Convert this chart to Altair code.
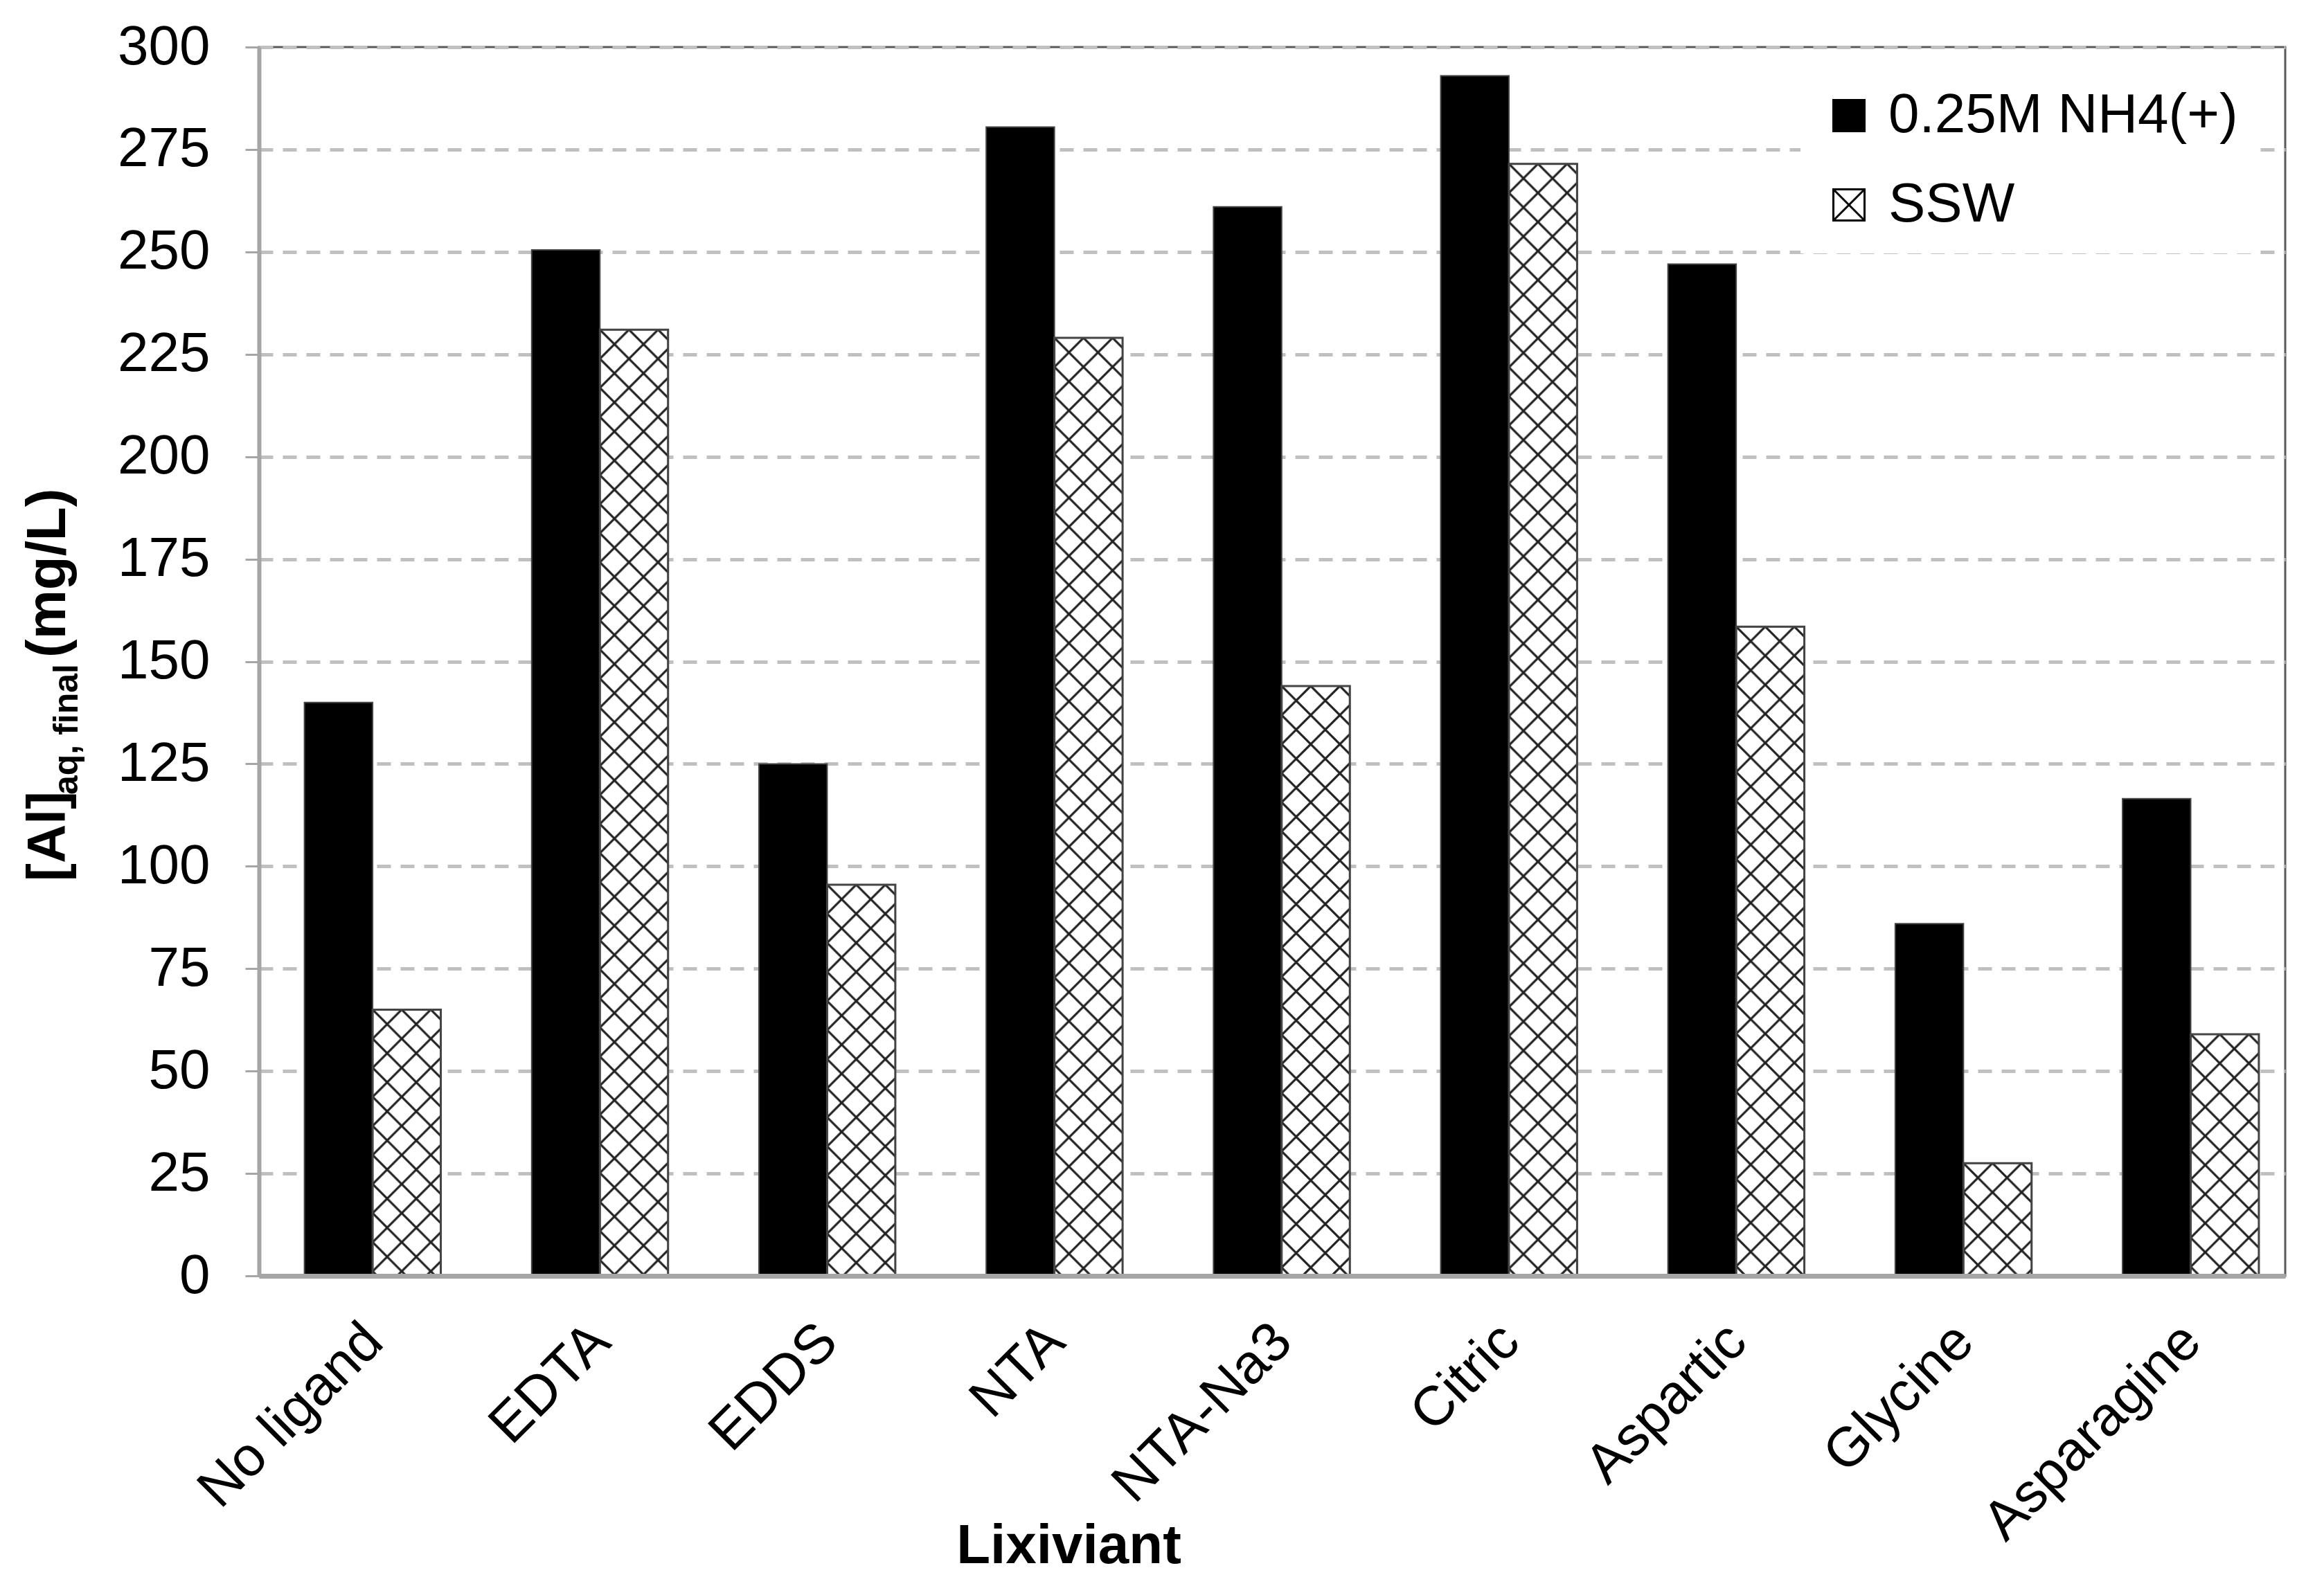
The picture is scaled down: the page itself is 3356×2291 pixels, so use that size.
import base64
import altair as alt
import pandas as pd

# ---------------- data ----------------
categories = ["No ligand", "EDTA", "EDDS", "NTA", "NTA-Na3",
              "Citric", "Aspartic", "Glycine", "Asparagine"]
series_names = ["0.25M NH4(+)", "SSW"]
nh4_values = [140, 250.5, 125, 280.5, 261, 293, 247, 86, 116.5]
ssw_values = [65, 231, 95.5, 229, 144, 271.5, 158.5, 27.5, 59]
y_ticks = [0, 25, 50, 75, 100, 125, 150, 175, 200, 225, 250, 275, 300]

rows = []
for c, a, b in zip(categories, nh4_values, ssw_values):
    rows.append({"lig": c, "series": series_names[0], "value": a})
    rows.append({"lig": c, "series": series_names[1], "value": b})
df = pd.DataFrame(rows)

# ---------------- styling ----------------
FONT = "Liberation Sans"
W, H = 2926, 1775
AXIS_GRAY = "#a6a6a6"

hatch_svg = (
    "<svg xmlns='http://www.w3.org/2000/svg' width='100%' height='100%'>"
    "<defs><pattern id='h' width='42' height='42' patternUnits='userSpaceOnUse'>"
    "<path d='M-4,-4L46,46M46,-4L-4,46' stroke='#222' stroke-width='3.2' fill='none'/>"
    "</pattern></defs>"
    "<rect x='0' y='0' width='100%' height='100%' fill='url(#h)'/></svg>"
)
HATCH = "data:image/svg+xml;base64," + base64.b64encode(hatch_svg.encode()).decode()
LEGEND_SYMBOL = "M-1,-1H1V1H-1Z M-1,-1L1,1 M1,-1L-1,1"

x_enc = alt.X(
    "lig:N", sort=categories,
    scale=alt.Scale(domain=categories, paddingInner=0.4, paddingOuter=0.158, align=0.633),
    axis=alt.Axis(
        title="Lixiviant", labelAngle=315, labelAlign="right", labelBaseline="middle",
        labelOffset=2, labelPadding=82, ticks=False, tickSize=0, labelLimit=1000,
        labelFont=FONT, labelFontSize=80, labelColor="black",
        domainColor=AXIS_GRAY, domainWidth=7,
        titleFont=FONT, titleFontSize=80, titleFontWeight="bold", titleColor="black",
        titleX=1169, titleY=414, titleAlign="center", titleBaseline="alphabetic",
        grid=False, zindex=1,
    ),
)
xoff = alt.XOffset("series:N", sort=series_names,
                   scale=alt.Scale(domain=series_names, paddingInner=0, paddingOuter=0))
y_enc = alt.Y(
    "value:Q", scale=alt.Scale(domain=[0, 300], nice=False),
    axis=alt.Axis(
        title=None, values=y_ticks, format="d",
        labelFont=FONT, labelFontSize=80, labelColor="black", labelPadding=51,
        tickSize=20, tickColor=AXIS_GRAY, tickWidth=3,
        domainColor=AXIS_GRAY, domainWidth=6,
        grid=True, gridColor="#c0c0c0", gridDash=[20, 14], gridWidth=5,
    ),
)

base = alt.Chart(df)

bars = base.mark_bar(stroke="#444444", strokeWidth=2).encode(
    x=x_enc, xOffset=xoff, y=y_enc, y2=alt.datum(0),
    fill=alt.Fill(
        "series:N", sort=series_names,
        scale=alt.Scale(domain=series_names, range=["black", "white"]),
        legend=alt.Legend(
            title=None, orient="none", legendX=2226, legendY=29,
            symbolType=LEGEND_SYMBOL, symbolSize=2025,
            symbolStrokeColor="black", symbolStrokeWidth=3,
            labelFont=FONT, labelFontSize=80, labelColor="black", labelLimit=1000,
            labelOffset=17, rowPadding=49, padding=30, fillColor="white",
        ),
    ),
)

hatch = base.transform_filter(alt.datum.series == series_names[1]).mark_image(
    url=HATCH, aspect=False
).encode(x=x_enc, xOffset=xoff, y=y_enc, y2=alt.datum(0))

outline = base.transform_filter(alt.datum.series == series_names[1]).mark_bar(
    fillOpacity=0, stroke="#444444", strokeWidth=3
).encode(x=x_enc, xOffset=xoff, y=y_enc, y2=alt.datum(0))

one = pd.DataFrame({"k": [0]})
t_main = alt.Chart(one).mark_text(
    text="[Al]", angle=270, align="left", baseline="alphabetic",
    font=FONT, fontSize=78, fontWeight="bold", color="black"
).encode(x=alt.value(-280), y=alt.value(1205))
t_sub = alt.Chart(one).mark_text(
    text="aq, final", angle=270, align="left", baseline="alphabetic",
    font=FONT, fontSize=50, fontWeight="bold", color="black"
).encode(x=alt.value(-262), y=alt.value(1080))
t_unit = alt.Chart(one).mark_text(
    text="(mg/L)", angle=270, align="left", baseline="alphabetic",
    font=FONT, fontSize=80, fontWeight="bold", color="black"
).encode(x=alt.value(-280), y=alt.value(882))

chart = alt.layer(bars, hatch, outline, t_main, t_sub, t_unit).properties(
    width=W, height=H,
    autosize=alt.AutoSizeParams(type="none"),
    padding={"left": 366, "top": 60, "right": 48, "bottom": 440},
    background="white",
).configure_view(stroke="#595959", strokeWidth=3)

chart.save("out.html", embed_options={"renderer": "svg", "actions": False})
